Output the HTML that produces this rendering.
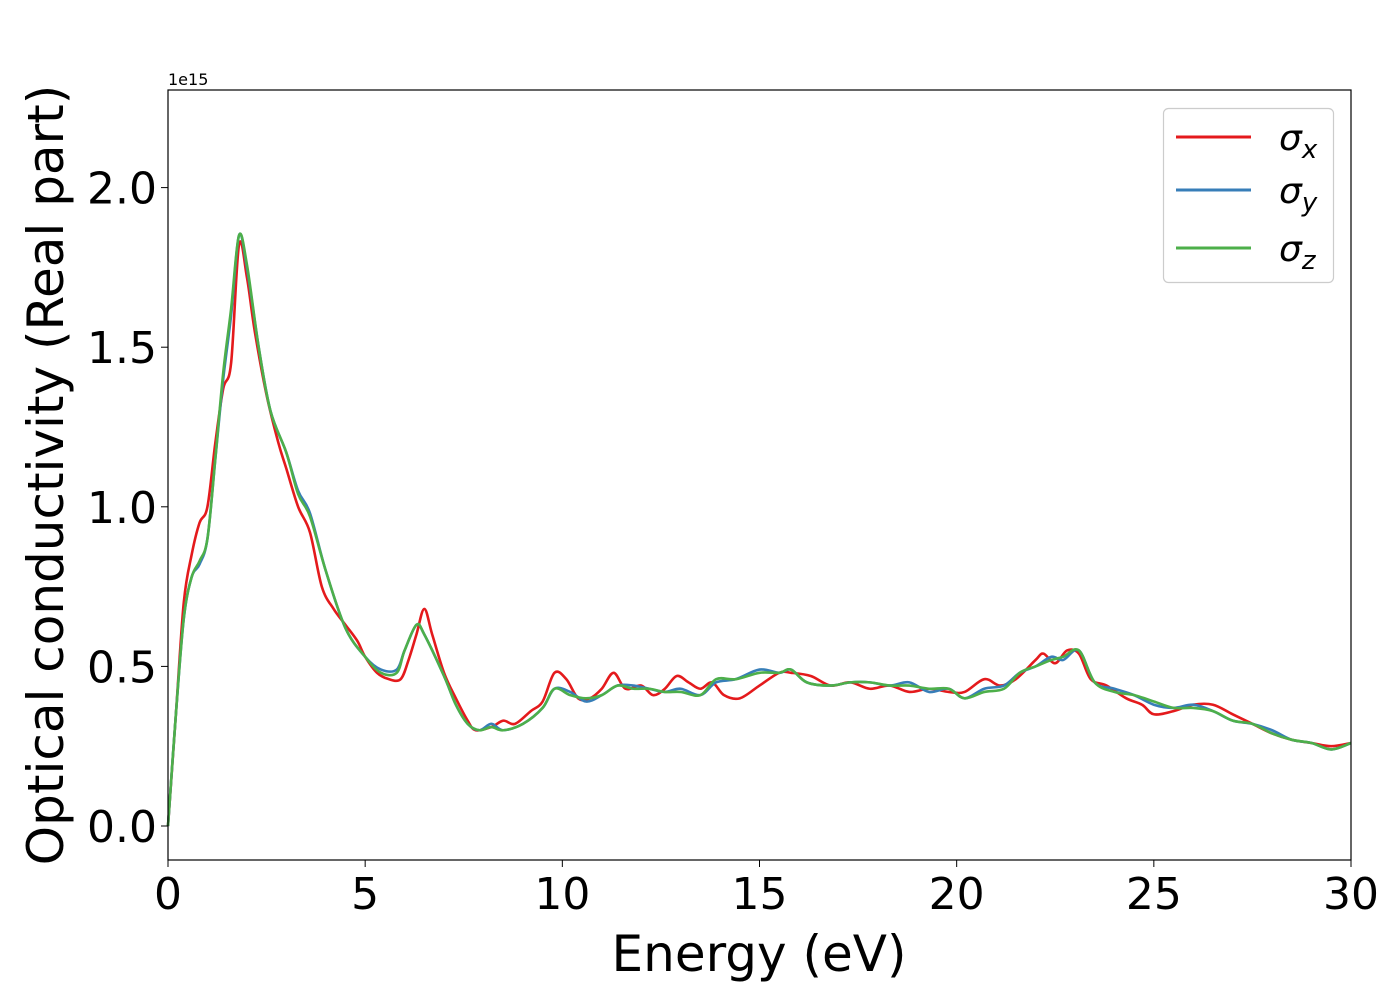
<!DOCTYPE html>
<html><head><meta charset="utf-8"><style>
html,body{margin:0;padding:0;background:#fff;}
svg{display:block;font-family:"DejaVu Sans","Liberation Sans",sans-serif;}
</style></head><body>
<svg id="chart" width="1400" height="1000" viewBox="0 0 1400 1000">
<rect x="0" y="0" width="1400" height="1000" fill="#fff"/>
<g id="series"></g>
<rect x="168" y="90" width="1183" height="770" fill="none" stroke="#000" stroke-width="1.2"/>
<g id="ticks"></g>
<text x="168" y="85" font-size="16">1e15</text>
<text x="759" y="971" font-size="50" text-anchor="middle">Energy (eV)</text>
<text transform="translate(63,475) rotate(-90)" font-size="50" text-anchor="middle">Optical conductivity (Real part)</text>
<g>
<rect x="1163.5" y="108.5" width="170" height="174" rx="5" fill="#fff" fill-opacity="0.8" stroke="#ccc" stroke-width="1.2"/>
<g><line x1="1176" y1="137" x2="1251" y2="137" stroke="#e41a1c" stroke-width="3"/><text x="1279" y="150" font-size="36" font-style="italic">σ<tspan font-size="26" dy="8">x</tspan></text></g>
<g><line x1="1176" y1="190" x2="1251" y2="190" stroke="#377eb8" stroke-width="3"/><text x="1279" y="203" font-size="36" font-style="italic">σ<tspan font-size="26" dy="8">y</tspan></text></g>
<g><line x1="1176" y1="248" x2="1251" y2="248" stroke="#4daf4a" stroke-width="3"/><text x="1279" y="261" font-size="36" font-style="italic">σ<tspan font-size="26" dy="8">z</tspan></text></g>
</g>
</svg>
<script>
const xTicks=[0,5,10,15,20,25,30];
const yTicks=[0.0,0.5,1.0,1.5,2.0];
const energyX=[0,0.2,0.4,0.6,0.8,1.0,1.2,1.4,1.6,1.8,2.0,2.2,2.5,2.8,3.0,3.3,3.6,3.9,4.2,4.5,4.8,5.0,5.3,5.6,5.9,6.1,6.3,6.5,6.7,7.0,7.3,7.6,7.8,8.2,8.5,8.8,9.2,9.5,9.8,10.1,10.4,10.7,11.0,11.3,11.6,12.0,12.3,12.6,12.9,13.2,13.5,13.8,14.1,14.5,15,15.5,15.8,16.3,16.8,17.3,17.8,18.3,18.8,19.3,19.8,20.2,20.7,21.1,21.5,22.0,22.2,22.5,22.8,23.1,23.4,23.8,24.3,24.7,25.0,25.5,26.0,26.5,27.0,27.5,28.0,28.5,29.0,29.5,30];
const sigmaX=[0,0.35,0.7,0.85,0.95,1.0,1.2,1.37,1.45,1.82,1.72,1.55,1.35,1.2,1.12,1.0,0.92,0.75,0.68,0.63,0.58,0.53,0.48,0.46,0.46,0.52,0.6,0.68,0.6,0.48,0.4,0.33,0.30,0.31,0.33,0.32,0.36,0.39,0.48,0.46,0.4,0.4,0.43,0.48,0.43,0.44,0.41,0.43,0.47,0.45,0.43,0.45,0.41,0.4,0.44,0.48,0.48,0.47,0.44,0.45,0.43,0.44,0.42,0.43,0.42,0.42,0.46,0.44,0.46,0.52,0.54,0.51,0.55,0.54,0.46,0.44,0.40,0.38,0.35,0.36,0.38,0.38,0.35,0.32,0.29,0.27,0.26,0.25,0.26];
const energyYZ=[0,0.2,0.4,0.6,0.8,1.0,1.2,1.4,1.6,1.8,2.0,2.3,2.6,3.0,3.3,3.6,4.0,4.5,5.0,5.4,5.8,6.0,6.3,6.5,7.0,7.3,7.6,7.9,8.2,8.5,9,9.5,9.8,10.2,10.6,11.0,11.4,11.8,12.2,12.6,13.0,13.5,13.9,14.4,15.0,15.5,15.8,16.2,16.8,17.3,17.8,18.3,18.8,19.3,19.8,20.2,20.7,21.2,21.6,22.0,22.4,22.7,23.1,23.5,24.0,24.5,25.0,25.5,26.0,26.5,27.0,27.5,28.0,28.5,29.0,29.5,30];
const sigmaY=[0,0.35,0.65,0.78,0.82,0.9,1.15,1.4,1.6,1.85,1.75,1.5,1.3,1.17,1.05,0.98,0.8,0.62,0.53,0.49,0.49,0.55,0.63,0.6,0.47,0.38,0.32,0.30,0.32,0.30,0.32,0.37,0.43,0.42,0.39,0.41,0.44,0.44,0.43,0.42,0.43,0.41,0.45,0.46,0.49,0.48,0.49,0.45,0.44,0.45,0.45,0.44,0.45,0.42,0.43,0.40,0.43,0.44,0.48,0.50,0.53,0.52,0.55,0.45,0.43,0.41,0.38,0.37,0.38,0.36,0.33,0.32,0.30,0.27,0.26,0.24,0.26];
const sigmaZ=[0,0.35,0.65,0.78,0.83,0.9,1.15,1.42,1.62,1.85,1.76,1.5,1.3,1.17,1.04,0.97,0.8,0.62,0.53,0.48,0.48,0.55,0.63,0.6,0.47,0.38,0.32,0.30,0.31,0.30,0.32,0.37,0.43,0.41,0.40,0.41,0.44,0.43,0.43,0.42,0.42,0.41,0.46,0.46,0.48,0.48,0.49,0.45,0.44,0.45,0.45,0.44,0.44,0.43,0.43,0.40,0.42,0.43,0.48,0.50,0.52,0.53,0.55,0.45,0.42,0.41,0.39,0.37,0.37,0.36,0.33,0.32,0.29,0.27,0.26,0.24,0.26];

const X0=168,X1=1351,Y0=826,YS=319.2;
function xs(v){return X0+(X1-X0)*v/30;}
function ys(v){return Y0-YS*v;}
const NS='http://www.w3.org/2000/svg';
function pathFrom(xa,ya){
  const p=xa.map((x,i)=>[xs(x),ys(ya[i])]);
  let d='M'+p[0][0]+','+p[0][1];
  for(let i=0;i<p.length-1;i++){
    const a=p[Math.max(0,i-1)],b=p[i],c=p[i+1],e=p[Math.min(p.length-1,i+2)];
    const c1=[b[0]+(c[0]-a[0])/6,b[1]+(c[1]-a[1])/6];
    const c2=[c[0]-(e[0]-b[0])/6,c[1]-(e[1]-b[1])/6];
    d+=' C'+c1[0]+','+c1[1]+' '+c2[0]+','+c2[1]+' '+c[0]+','+c[1];
  }
  return d;
}
const sg=document.getElementById('series');
[[energyX,sigmaX,'#e41a1c','series-sigma-x'],[energyYZ,sigmaY,'#377eb8','series-sigma-y'],[energyYZ,sigmaZ,'#4daf4a','series-sigma-z']].forEach(s=>{
  const el=document.createElementNS(NS,'path');
  el.setAttribute('d',pathFrom(s[0],s[1]));
  el.setAttribute('fill','none');el.setAttribute('stroke',s[2]);el.setAttribute('stroke-width','2.6');
  
  
  sg.appendChild(el);
});
const tg=document.getElementById('ticks');
xTicks.forEach(v=>{
  const l=document.createElementNS(NS,'line');
  l.setAttribute('x1',xs(v));l.setAttribute('x2',xs(v));l.setAttribute('y1',860);l.setAttribute('y2',867);l.setAttribute('stroke','#000');
  
  
  tg.appendChild(l);
  const t=document.createElementNS(NS,'text');
  t.setAttribute('x',xs(v));t.setAttribute('y',909);t.setAttribute('font-size','44');t.setAttribute('text-anchor','middle');
  t.textContent=v;
  
  
  tg.appendChild(t);
});
yTicks.forEach(v=>{
  const l=document.createElementNS(NS,'line');
  l.setAttribute('x1',161);l.setAttribute('x2',168);l.setAttribute('y1',ys(v));l.setAttribute('y2',ys(v));l.setAttribute('stroke','#000');
  
  
  tg.appendChild(l);
  const t=document.createElementNS(NS,'text');
  t.setAttribute('x',157);t.setAttribute('y',ys(v)+16);t.setAttribute('font-size','44');t.setAttribute('text-anchor','end');
  t.textContent=v.toFixed(1);
  
  
  tg.appendChild(t);
});
</script>
</body></html>
